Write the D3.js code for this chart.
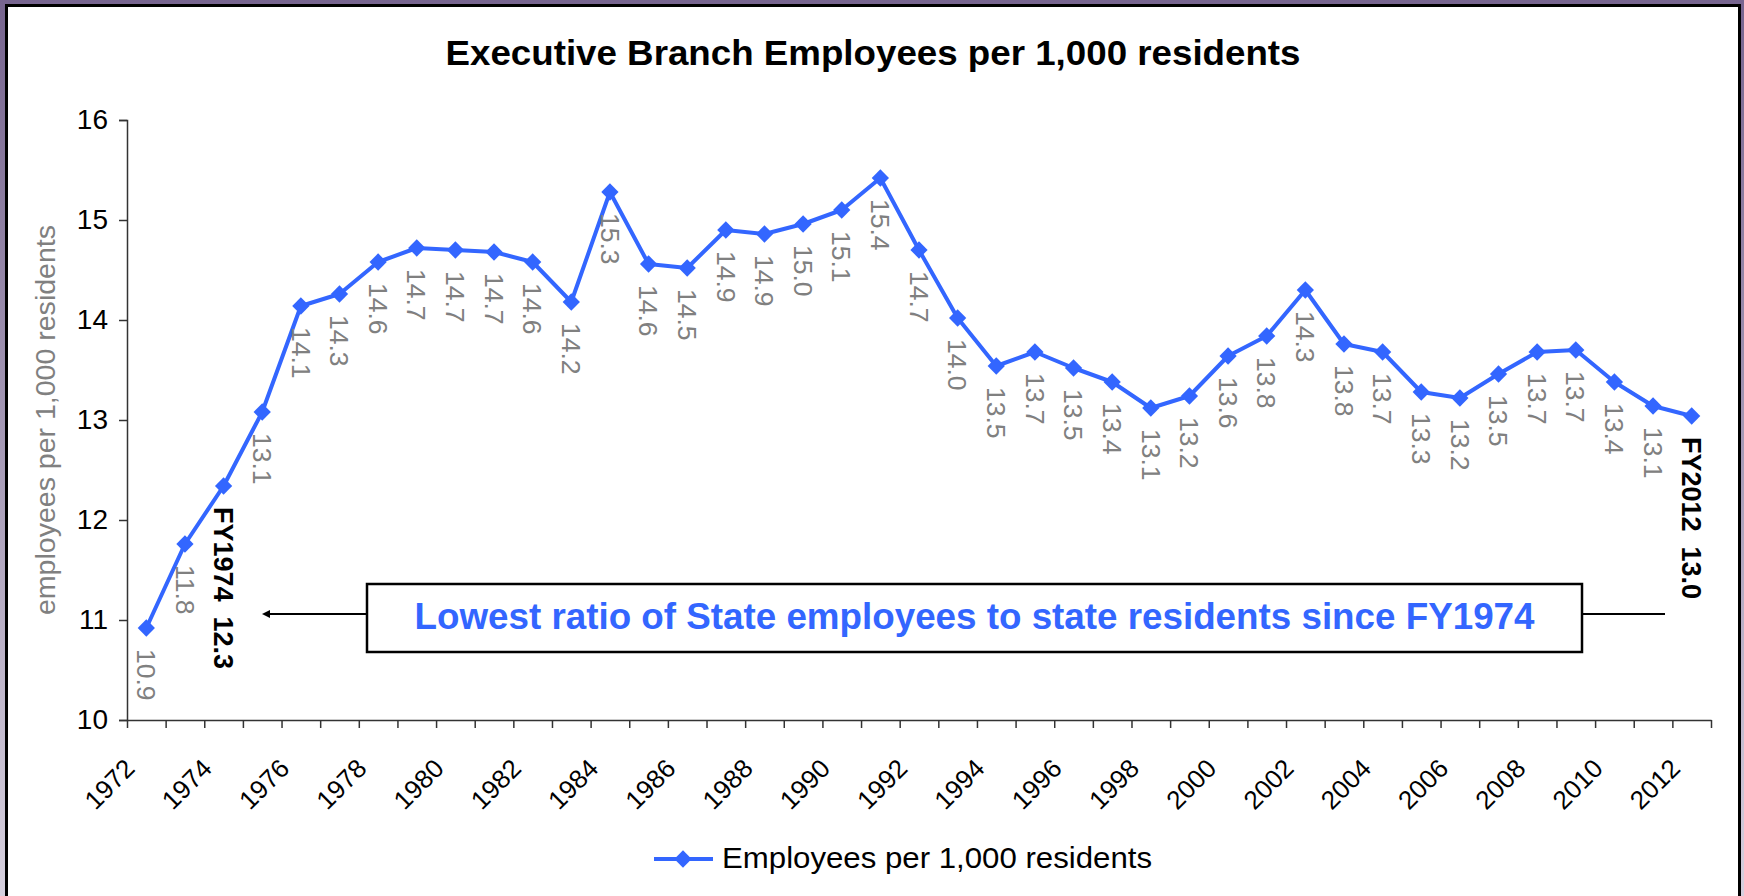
<!DOCTYPE html>
<html>
<head>
<meta charset="utf-8">
<script src="https://cdn.jsdelivr.net/npm/d3@7"></script>
<style>
  html, body { margin: 0; padding: 0; background: #ffffff; }
  svg { display: block; }
  text { font-family: "Liberation Sans", Arial, Helvetica, sans-serif; }
</style>
</head>
<body>
<svg id="chart" width="1744" height="896"></svg>
<script>
// ---- data ----
const years = [1972,1973,1974,1975,1976,1977,1978,1979,1980,1981,1982,1983,1984,1985,1986,1987,1988,1989,1990,1991,1992,1993,1994,1995,1996,1997,1998,1999,2000,2001,2002,2003,2004,2005,2006,2007,2008,2009,2010,2011,2012];
const values = [10.92,11.76,12.34,13.08,14.14,14.26,14.58,14.72,14.70,14.68,14.58,14.18,15.28,14.56,14.52,14.90,14.86,14.96,15.10,15.42,14.70,14.02,13.54,13.68,13.52,13.38,13.12,13.24,13.64,13.84,14.30,13.76,13.68,13.28,13.22,13.46,13.68,13.70,13.38,13.14,13.04];
const yTicks = [10,11,12,13,14,15,16];
const xLabelYears = [1972,1974,1976,1978,1980,1982,1984,1986,1988,1990,1992,1994,1996,1998,2000,2002,2004,2006,2008,2010,2012];
const highlightYears = [1974, 2012];
const highlightPrefix = ["FY1974", "FY2012"];
const titleText = "Executive Branch Employees per 1,000 residents";
const yTitleText = "employees per 1,000 residents";
const seriesName = "Employees per 1,000 residents";
const noteText = "Lowest ratio of State employees to state residents since FY1974";

(function () {
// ---- setup ----
const svg = d3.select("#chart");
const W = 1744, H = 896;
const blue = "#3366ff";
const plotL = 127, plotR = 1711, plotT = 120, plotB = 720;

const defs = svg.append("defs");
const grad = defs.append("linearGradient").attr("id", "bg").attr("x1", 0).attr("y1", 0).attr("x2", 0).attr("y2", 1);
grad.append("stop").attr("offset", "0%").attr("stop-color", "#77658f");
grad.append("stop").attr("offset", "100%").attr("stop-color", "#d6d0de");
defs.append("marker").attr("id", "arrow").attr("viewBox", "0 0 10 10")
  .attr("refX", 0).attr("refY", 5).attr("markerWidth", 10).attr("markerHeight", 8)
  .attr("markerUnits", "userSpaceOnUse").attr("orient", "auto")
  .append("path").attr("d", "M0,0 L10,5 L0,10 Z").attr("fill", "#000");

svg.append("rect").attr("x", 0).attr("y", 0).attr("width", W).attr("height", H).attr("fill", "url(#bg)");
svg.append("rect").attr("x", 6.5).attr("y", 5.5).attr("width", 1733).attr("height", 900)
  .attr("fill", "#ffffff").attr("stroke", "#000").attr("stroke-width", 3);

// ---- scales ----
const x = d3.scaleLinear().domain([years[0] - 0.5, years[years.length - 1] + 0.5]).range([plotL, plotR]);
const y = d3.scaleLinear().domain([10, 16]).range([plotB, plotT]);

// ---- title ----
svg.append("text").attr("x", 873).attr("y", 65).attr("text-anchor", "middle")
  .attr("font-size", 35).attr("font-weight", "bold").attr("fill", "#000")
  .attr("textLength", 855).attr("lengthAdjust", "spacingAndGlyphs")
  .text(titleText);

// ---- y axis ----
const yAxis = svg.append("g").attr("transform", `translate(${plotL},0)`)
  .call(d3.axisLeft(y).tickValues(yTicks).tickSize(8).tickPadding(11).tickFormat(d3.format("d")));
yAxis.select(".domain").attr("stroke", "#333").attr("stroke-width", 1.5);
yAxis.selectAll(".tick line").attr("stroke", "#333").attr("stroke-width", 1.5);
yAxis.selectAll(".tick text").attr("font-size", 28).attr("fill", "#000")
  .attr("font-family", "'Liberation Sans', Arial, sans-serif");

svg.append("text").attr("transform", "translate(55,420) rotate(-90)")
  .attr("text-anchor", "middle").attr("font-size", 27).attr("fill", "#808080")
  .attr("textLength", 390).attr("lengthAdjust", "spacingAndGlyphs")
  .text(yTitleText);

// ---- x axis ----
const boundaries = years.map(d => d - 0.5).concat([years[years.length - 1] + 0.5]);
const xAxis = svg.append("g").attr("transform", `translate(0,${plotB})`)
  .call(d3.axisBottom(x).tickValues(boundaries).tickSize(8).tickSizeOuter(0).tickFormat(""));
xAxis.select(".domain").attr("stroke", "#333").attr("stroke-width", 1.5);
xAxis.selectAll(".tick line").attr("stroke", "#333").attr("stroke-width", 1.5);

svg.append("g").selectAll("text").data(xLabelYears).join("text")
  .attr("transform", d => `translate(${x(d) - 10},${plotB + 50}) rotate(-45)`)
  .attr("text-anchor", "end").attr("font-size", 26).attr("fill", "#000")
  .text(d => d);

// ---- line & markers ----
const pts = years.map((yr, i) => ({ yr, v: values[i] }));
svg.append("path").datum(pts)
  .attr("d", d3.line().x(d => x(d.yr)).y(d => y(d.v)))
  .attr("fill", "none").attr("stroke", blue).attr("stroke-width", 4).attr("stroke-linejoin", "round");

const diamond = d3.symbol().type(d3.symbolDiamond2).size(190);
svg.append("g").selectAll("path").data(pts).join("path")
  .attr("transform", d => `translate(${x(d.yr)},${y(d.v)})`)
  .attr("d", diamond).attr("fill", blue);

// ---- data labels ----
const fmt = d3.format(".1f");
svg.append("g").selectAll("text").data(pts).join("text")
  .attr("transform", d => `translate(${x(d.yr)},${y(d.v) + 21}) rotate(90)`)
  .attr("dy", "0.35em")
  .attr("text-anchor", "start")
  .attr("font-size", d => highlightYears.includes(d.yr) ? 27 : 26.5)
  .attr("font-weight", d => highlightYears.includes(d.yr) ? "bold" : "normal")
  .attr("fill", d => highlightYears.includes(d.yr) ? "#000" : "#808080")
  .text(d => {
    const k = highlightYears.indexOf(d.yr);
    return k >= 0 ? highlightPrefix[k] + "\u00a0 " + fmt(d.v) : fmt(d.v);
  });

// ---- annotation ----
const boxL = 367, boxR = 1582, boxT = 584, boxB = 652, arrowY = 614;
svg.append("line").attr("x1", boxL).attr("x2", 270).attr("y1", arrowY).attr("y2", arrowY)
  .attr("stroke", "#000").attr("stroke-width", 2).attr("marker-end", "url(#arrow)");
svg.append("line").attr("x1", boxR).attr("x2", 1665).attr("y1", arrowY).attr("y2", arrowY)
  .attr("stroke", "#000").attr("stroke-width", 2);
svg.append("rect").attr("x", boxL).attr("y", boxT).attr("width", boxR - boxL).attr("height", boxB - boxT)
  .attr("fill", "#fff").attr("stroke", "#000").attr("stroke-width", 2.5);
svg.append("text").attr("x", (boxL + boxR) / 2).attr("y", 629).attr("text-anchor", "middle")
  .attr("font-size", 37).attr("font-weight", "bold").attr("fill", blue)
  .attr("textLength", 1120).attr("lengthAdjust", "spacingAndGlyphs")
  .text(noteText);

// ---- legend ----
const lg = svg.append("g");
lg.append("line").attr("x1", 654).attr("x2", 713).attr("y1", 859).attr("y2", 859)
  .attr("stroke", blue).attr("stroke-width", 4);
lg.append("path").attr("transform", "translate(683,859)").attr("d", diamond).attr("fill", blue);
lg.append("text").attr("x", 722).attr("y", 868).attr("font-size", 30).attr("fill", "#000")
  .attr("textLength", 430).attr("lengthAdjust", "spacingAndGlyphs")
  .text(seriesName);
})();
</script>
</body>
</html>
